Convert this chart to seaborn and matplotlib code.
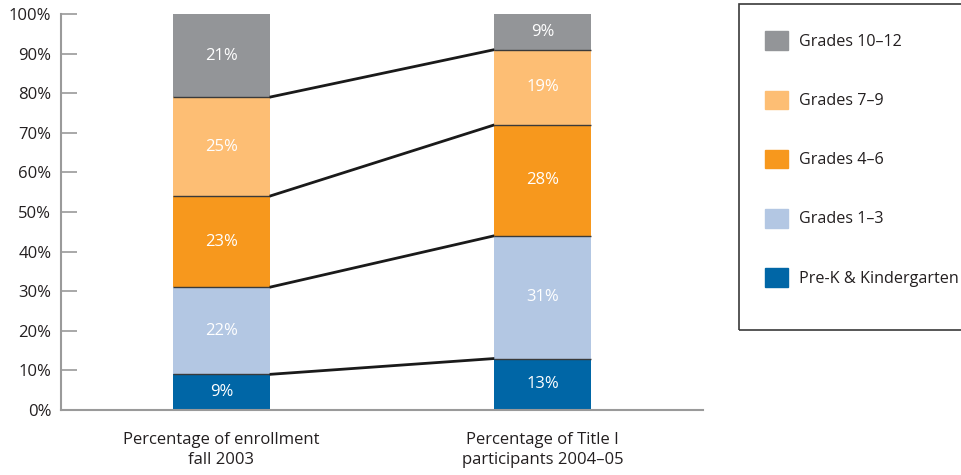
import matplotlib
matplotlib.use("Agg")
import matplotlib.pyplot as plt
import matplotlib.patches as mpatches
import numpy as np
import pandas as pd
import seaborn as sns

# Stacked shares by grade band for two populations
groups = ["Percentage of enrollment\nfall 2003", "Percentage of Title I\nparticipants 2004–05"]
bands = ["Pre-K & Kindergarten", "Grades 1–3", "Grades 4–6", "Grades 7–9", "Grades 10–12"]
enrollment = [9, 22, 23, 25, 21]
title_one = [13, 31, 28, 19, 9]
colors = ["#0066A6", "#B3C7E3", "#F7981D", "#FDBE74", "#939598"]
yticks = [0, 10, 20, 30, 40, 50, 60, 70, 80, 90, 100]

sns.set_theme(style="white")
plt.rcParams["font.family"] = ["Open Sans", "DejaVu Sans"]
text_color = "#231F20"

values = np.array([enrollment, title_one], dtype=float)  # rows: groups, cols: bands
cum = values.cumsum(axis=1)

fig = plt.figure(figsize=(9.61, 4.75), dpi=100)
ax = fig.add_axes([61 / 961, 65 / 475, 642 / 961, 396 / 475])

width = 0.30
# draw cumulative bars from the top band down so each lower band overlays the one above
for j in range(len(bands) - 1, -1, -1):
    df = pd.DataFrame({"group": groups, "top": cum[:, j]})
    sns.barplot(data=df, x="group", y="top", color=colors[j], width=width,
                saturation=1, ax=ax, linewidth=0, zorder=2)

# thin boundaries between segments and white value labels
for i in range(len(groups)):
    for j in range(len(bands)):
        top = cum[i, j]
        bottom = top - values[i, j]
        if j < len(bands) - 1:
            ax.plot([i - width / 2, i + width / 2], [top, top], color="#3a3a3a",
                    lw=1.0, zorder=3, solid_capstyle="butt")
        ax.text(i, (top + bottom) / 2, f"{int(values[i, j])}%", ha="center", va="center",
                color="white", fontsize=12, zorder=4)

# connector lines between matching segment tops
for j in range(len(bands) - 1):
    ax.plot([width / 2, 1 - width / 2], [cum[0, j], cum[1, j]], color="#1a1a1a",
            lw=2.0, zorder=3, solid_capstyle="butt")

ax.set_xlim(-0.5, 1.5)
ax.set_ylim(0, 100)
ax.set_yticks(yticks)
ax.set_yticklabels([f"{t}%" for t in yticks])
ax.set_xlabel("")
ax.set_ylabel("")
for s in ["top", "right"]:
    ax.spines[s].set_visible(False)
for s in ["left", "bottom"]:
    ax.spines[s].set_color("#9a9a9a")
    ax.spines[s].set_linewidth(1.5)
ax.tick_params(axis="y", direction="in", length=11.5, width=1.2, color="#9a9a9a",
               labelsize=12, labelcolor=text_color, pad=7, left=True)
ax.tick_params(axis="x", length=0, labelsize=12, labelcolor=text_color, pad=16)
for lbl in ax.get_xticklabels():
    lbl.set_linespacing(1.3)

# legend in a framed box on the right, top band first
handles = [mpatches.Patch(color=colors[j], label=bands[j]) for j in range(len(bands) - 1, -1, -1)]
leg = fig.legend(handles=handles, loc="upper left", bbox_to_anchor=(759 / 961, 1 - 25 / 475),
                 frameon=False, fontsize=11.6, labelcolor=text_color, handlelength=1.42,
                 handleheight=1.42, handletextpad=0.68, labelspacing=2.5, borderaxespad=0)
fig.patches.append(mpatches.Rectangle((739 / 961, 1 - 330 / 475), 230 / 961, 326 / 475,
                                      transform=fig.transFigure, fill=False,
                                      edgecolor="#3a3a3a", lw=1.2))

fig.savefig("out.png", dpi=100)
